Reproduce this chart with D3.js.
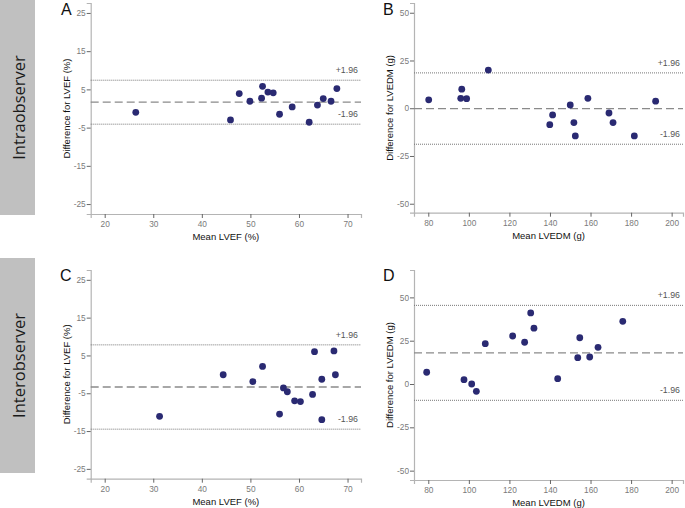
<!DOCTYPE html>
<html><head><meta charset="utf-8">
<script src="https://cdn.jsdelivr.net/npm/d3@7"></script>
<style>
html,body{margin:0;padding:0;background:#fff;}
svg{display:block;}
</style></head>
<body>
<svg id="chart" width="685" height="508"></svg>
<script>
// ---------- DATA ----------
const lvefTicksX = [20, 30, 40, 50, 60, 70];
const lvefTicksY = [25, 15, 5, -5, -15, -25];
const lvedmTicksX = [80, 100, 120, 140, 160, 180, 200];
const lvedmTicksY = [50, 25, 0, -25, -50];

// A: Intraobserver LVEF
const intraLvefMean = [26.4, 45.9, 47.7, 49.9, 52.3, 52.5, 53.6, 54.7, 56.0, 58.6, 62.1, 63.8, 65.0, 66.6, 67.8];
const intraLvefDiff = [-1.0, -3.0, 3.9, 1.9, 2.7, 5.8, 4.3, 4.1, -1.5, 0.4, -3.6, 0.9, 2.6, 1.9, 5.2];
const intraLvefLimits = [1.65, 7.4, -4.1]; // mean, +1.96, -1.96

// B: Intraobserver LVEDM
const intraLvedmMean = [80.2, 96.5, 96.0, 98.9, 109.6, 139.9, 141.3, 150.0, 151.8, 152.5, 158.7, 169.1, 171.1, 181.6, 192.1];
const intraLvedmDiff = [4.4, 10.0, 5.2, 5.0, 20.0, -8.6, -3.5, 1.7, -7.5, -14.5, 5.2, -2.5, -7.5, -14.5, 3.7];
const intraLvedmLimits = [-0.2, 18.5, -18.85];

// C: Interobserver LVEF
const interLvefMean = [31.3, 44.4, 50.5, 52.5, 56.0, 56.8, 57.6, 59.1, 60.3, 62.8, 63.2, 64.7, 64.7, 67.2, 67.5];
const interLvefDiff = [-11.1, -0.1, -1.9, 2.1, -10.5, -3.6, -4.6, -7.0, -7.2, -5.3, 6.0, -1.3, -12.0, 6.2, -0.1];
const interLvefLimits = [-3.35, 7.8, -14.5];

// D: Interobserver LVEDM
const interLvedmMean = [79.2, 97.6, 101.4, 103.7, 108.1, 121.6, 127.5, 130.5, 132.1, 143.8, 153.7, 154.7, 159.6, 163.7, 175.9];
const interLvedmDiff = [6.8, 2.5, 0.0, -4.2, 23.3, 27.7, 24.1, 41.0, 32.2, 3.1, 15.2, 26.7, 15.6, 21.2, 36.2];
const interLvedmLimits = [18.0, 45.4, -9.4];

const rowLabels = ["Intraobserver", "Interobserver"];
const panelLetters = ["A", "B", "C", "D"];
const xTitles = ["Mean LVEF (%)", "Mean LVEDM (g)", "Mean LVEF (%)", "Mean LVEDM (g)"];
const yTitles = ["Difference for LVEF (%)", "Difference for LVEDM (g)", "Difference for LVEF (%)", "Difference for LVEDM (g)"];
const limitLabels = ["+1.96", "-1.96"];

// ---------- LAYOUT ----------
const svg = d3.select("#chart");
const FONT = "'Liberation Sans', Arial, sans-serif";
const DOT = "#2a2a72";

const panels = [
  {letter: panelLetters[0], xs: intraLvefMean, ys: intraLvefDiff, lim: intraLvefLimits,
   xTicks: lvefTicksX, yTicks: lvefTicksY, xDom: [17.12, 72.77], yDom: [-27.6, 27.6],
   left: 90.7, right: 361, top: 3, bottom: 214, xTitle: xTitles[0], yTitle: yTitles[0], lx: 61, ly: 15},
  {letter: panelLetters[1], xs: intraLvedmMean, ys: intraLvedmDiff, lim: intraLvedmLimits,
   xTicks: lvedmTicksX, yTicks: lvedmTicksY, xDom: [72.95, 205.6], yDom: [-54.7, 55.1],
   left: 414, right: 683, top: 3, bottom: 212.7, xTitle: xTitles[1], yTitle: yTitles[1], lx: 383, ly: 15},
  {letter: panelLetters[2], xs: interLvefMean, ys: interLvefDiff, lim: interLvefLimits,
   xTicks: lvefTicksX, yTicks: lvefTicksY, xDom: [17.12, 72.77], yDom: [-27.6, 27.6],
   left: 90.7, right: 361, top: 270, bottom: 478.7, xTitle: xTitles[2], yTitle: yTitles[2], lx: 60, ly: 281},
  {letter: panelLetters[3], xs: interLvedmMean, ys: interLvedmDiff, lim: interLvedmLimits,
   xTicks: lvedmTicksX, yTicks: lvedmTicksY, xDom: [72.95, 205.6], yDom: [-55.4, 65.8],
   left: 414, right: 683, top: 270, bottom: 480, xTitle: xTitles[3], yTitle: yTitles[3], lx: 383, ly: 281}
];

// Row side boxes
const rows = [{y: 0, h: 215}, {y: 258, h: 215}];
rows.forEach((r, i) => {
  svg.append("rect").attr("x", 0).attr("y", r.y).attr("width", 35).attr("height", r.h).attr("fill", "#c0c0c0");
  svg.append("text")
    .attr("transform", `translate(25,${r.y + r.h / 2}) rotate(-90)`)
    .attr("text-anchor", "middle")
    .attr("font-family", "'Open Sans', 'Noto Sans', sans-serif")
    .attr("font-size", 16.5)
    .attr("fill", "#1a1a1a")
    .text(rowLabels[i]);
});

panels.forEach(p => {
  const g = svg.append("g");
  const x = d3.scaleLinear().domain(p.xDom).range([p.left, p.right]);
  const y = d3.scaleLinear().domain(p.yDom).range([p.bottom, p.top]);

  // Y axis
  const yAxis = d3.axisLeft(y).tickValues(p.yTicks).tickSize(4).tickPadding(1).tickFormat(d => String(d));
  const ya = g.append("g").attr("transform", `translate(${p.left},0)`).call(yAxis);
  // X axis
  const xAxis = d3.axisBottom(x).tickValues(p.xTicks).tickSize(4).tickPadding(3).tickFormat(d => String(d));
  const xa = g.append("g").attr("transform", `translate(0,${p.bottom})`).call(xAxis);
  [ya, xa].forEach(a => {
    a.select(".domain").attr("stroke", "#b4b4b4").attr("stroke-width", 1.2);
    a.selectAll(".tick line").attr("stroke", "#666");
    a.selectAll(".tick text").attr("fill", "#7a7a7a").attr("font-family", FONT).attr("font-size", 8.3);
  });

  // Limit lines
  const [m, up, lo] = p.lim;
  g.append("line").attr("x1", p.left).attr("x2", p.right).attr("y1", y(m)).attr("y2", y(m))
    .attr("stroke", "#8a8a8a").attr("stroke-width", 1.3).attr("stroke-dasharray", "8,4");
  [up, lo].forEach((v, i) => {
    g.append("line").attr("x1", p.left).attr("x2", p.right).attr("y1", y(v)).attr("y2", y(v))
      .attr("stroke", "#777").attr("stroke-width", 1).attr("stroke-dasharray", "1,1");
    g.append("text").attr("x", p.right - 3).attr("y", y(v) - 7)
      .attr("text-anchor", "end").attr("font-family", FONT).attr("font-size", 8.8)
      .attr("fill", "#555").text(limitLabels[i]);
  });

  // Points
  g.selectAll("circle").data(p.xs.map((d, i) => [d, p.ys[i]])).join("circle")
    .attr("cx", d => x(d[0])).attr("cy", d => y(d[1])).attr("r", 3.4).attr("fill", DOT);

  // Titles
  g.append("text").attr("x", (p.left + p.right) / 2).attr("y", p.bottom + 26)
    .attr("text-anchor", "middle").attr("font-family", FONT).attr("font-size", 9.5).attr("fill", "#111")
    .text(p.xTitle);
  g.append("text").attr("transform", `translate(${p.left - 21},${(p.top + p.bottom) / 2}) rotate(-90)`)
    .attr("text-anchor", "middle").attr("font-family", FONT).attr("font-size", 9.5).attr("fill", "#111")
    .text(p.yTitle);
  g.append("text").attr("x", p.lx).attr("y", p.ly).attr("font-family", FONT).attr("font-size", 16)
    .attr("fill", "#111").text(p.letter);
});
</script>
</body></html>
